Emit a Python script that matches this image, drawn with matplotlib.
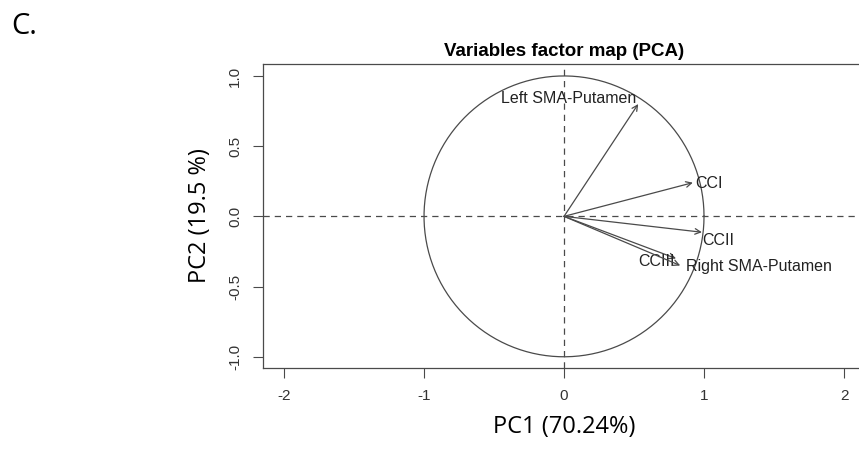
import numpy as np
import matplotlib
matplotlib.use("Agg")
import matplotlib.pyplot as plt

plt.rcParams['font.family'] = ['Liberation Sans', 'DejaVu Sans']

# PCA variable coordinates (PC1, PC2)
variables = ["Left SMA-Putamen", "CCI", "CCII", "CCIII", "Right SMA-Putamen"]
pc1 = [0.53, 0.92, 0.985, 0.80, 0.83]
pc2 = [0.80, 0.24, -0.113, -0.30, -0.35]

x_ticks = [-2, -1, 0, 1, 2]
y_ticks = [-1.0, -0.5, 0.0, 0.5, 1.0]

# label placement relative to arrow tip: (ha, dx pt, dy pt)
label_place = [("right", -1.5, 4.0), ("left", 1.5, -0.5), ("left", 0.5, -6.0),
               ("right", -1.0, -2.5), ("left", 4.5, -0.5)]

fig = plt.figure(figsize=(8.59, 4.54), dpi=100)
ax = fig.add_axes([0.3062, 0.1894, 0.7008, 0.6696])

line_col = "#4a4a4a"

# unit circle
t = np.linspace(0, 2 * np.pi, 400)
ax.plot(np.cos(t), np.sin(t), color=line_col, lw=0.9)

ax.axhline(0, color=line_col, lw=0.9, ls=(0, (5, 4)))
ax.axvline(0, color=line_col, lw=0.9, ls=(0, (5, 4)))

for name, x, y, (ha, dx, dy) in zip(variables, pc1, pc2, label_place):
    ax.annotate("", xy=(x, y), xytext=(0, 0),
                arrowprops=dict(arrowstyle="->", color=line_col, lw=0.9,
                                shrinkA=0, shrinkB=0, mutation_scale=10))
    ax.annotate(name, (x, y), xytext=(dx, dy), textcoords="offset points",
                ha=ha, va="center", fontsize=11.5, color="#222222")

ax.set_xlim(-2.15, 2.15)
ax.set_ylim(-1.08, 1.085)
ax.set_xticks(x_ticks)
ax.set_xticklabels([str(v) for v in x_ticks])
ax.set_yticks(y_ticks)
ax.set_yticklabels([f"{v:.1f}" for v in y_ticks], rotation=90, va="center")
ax.tick_params(direction="out", length=7, width=0.8, color=line_col,
               labelsize=11, labelcolor="#333333", pad=8)
for s in ax.spines.values():
    s.set_color(line_col)
    s.set_linewidth(0.9)

ax.set_title("Variables factor map (PCA)", fontsize=13.5, fontweight="bold", pad=6)
ax.set_xlabel("PC1 (70.24%)", fontsize=17, family=["Open Sans", "DejaVu Sans"],
              labelpad=9)
ax.set_ylabel("PC2 (19.5 %)", fontsize=17, family=["Open Sans", "DejaVu Sans"],
              labelpad=12)

fig.text(0.013, 0.925, "C.", fontsize=21, family=["Open Sans", "DejaVu Sans"])

fig.savefig("out.png", dpi=100)
